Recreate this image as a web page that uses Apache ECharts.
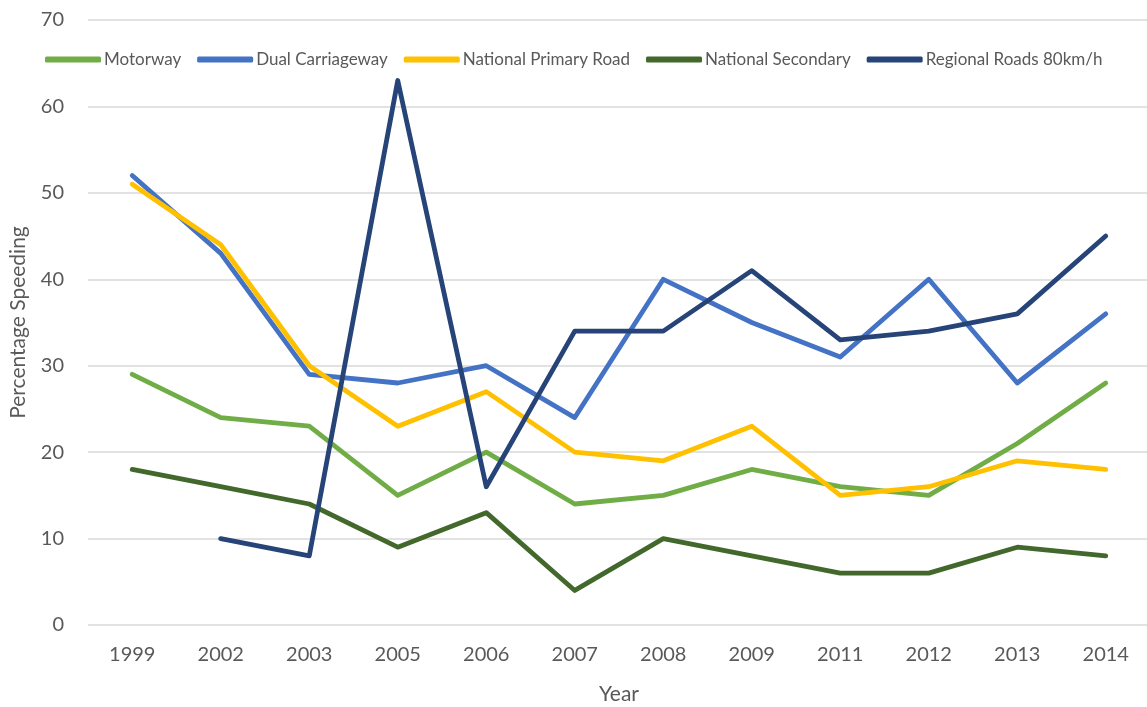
<!DOCTYPE html>
<html><head><meta charset="utf-8">
<script src="https://cdn.jsdelivr.net/npm/echarts@6/dist/echarts.min.js"></script>
<style>html,body{margin:0;padding:0;background:#fff}#c{width:1147px;height:707px}</style>
</head><body><div id="c"></div>
<script>
var years = ['1999','2002','2003','2005','2006','2007','2008','2009','2011','2012','2013','2014'];
var motorway = [29,24,23,15,20,14,15,18,16,15,21,28];
var dualCarriageway = [52,43,29,28,30,24,40,35,31,40,28,36];
var nationalPrimary = [51,44,30,23,27,20,19,23,15,16,19,18];
var nationalSecondary = [18,16,14,9,13,4,10,8,6,6,9,8];
var regionalRoads = [null,10,8,63,16,34,34,41,33,34,36,45];
var seriesNames = ['Motorway','Dual Carriageway','National Primary Road','National Secondary','Regional Roads 80km/h'];
var colors = ['#70AD47','#4472C4','#FFC000','#43682B','#264478'];
var dataSets = [motorway, dualCarriageway, nationalPrimary, nationalSecondary, regionalRoads];
var font = 'Lato, "Open Sans", sans-serif';
var chart = echarts.init(document.getElementById('c'));
chart.setOption({
  animation:false,
  color: colors,
  textStyle:{fontFamily:font},
  legend:{
    left:40, top:46, itemWidth:56, itemHeight:6, itemGap:16,
    icon:'roundRect',
    textStyle:{fontSize:17,color:'#595959',fontFamily:font, padding:[0,0,0,-2]},
    data: seriesNames
  },
  grid:{left:88, top:20, width:1062, height:605, outerBoundsMode:'none', containLabel:false},
  xAxis:{
    type:'category', data:years, boundaryGap:true,
    name:'Year', nameLocation:'middle', nameGap:59,
    nameTextStyle:{fontSize:21,color:'#595959',fontFamily:font},
    axisLine:{show:false}, axisTick:{show:false},
    axisLabel:{fontSize:20,color:'#595959',margin:20,fontFamily:font}
  },
  yAxis:{
    type:'value', min:0, max:70, interval:10,
    name:'Percentage Speeding', nameLocation:'middle', nameGap:59,
    nameTextStyle:{fontSize:21,color:'#595959',fontFamily:font},
    axisLine:{show:false}, axisTick:{show:false},
    axisLabel:{fontSize:20,color:'#595959',margin:24,fontFamily:font},
    splitLine:{lineStyle:{color:'#D9D9D9',width:1.5}}
  },
  series: dataSets.map(function(d,i){
    return {name:seriesNames[i], type:'line', data:d, showSymbol:false, symbol:'none',
      connectNulls:false,
      lineStyle:{width:4.8,color:colors[i],cap:'round',join:'round'}};
  })
});
</script></body></html>
